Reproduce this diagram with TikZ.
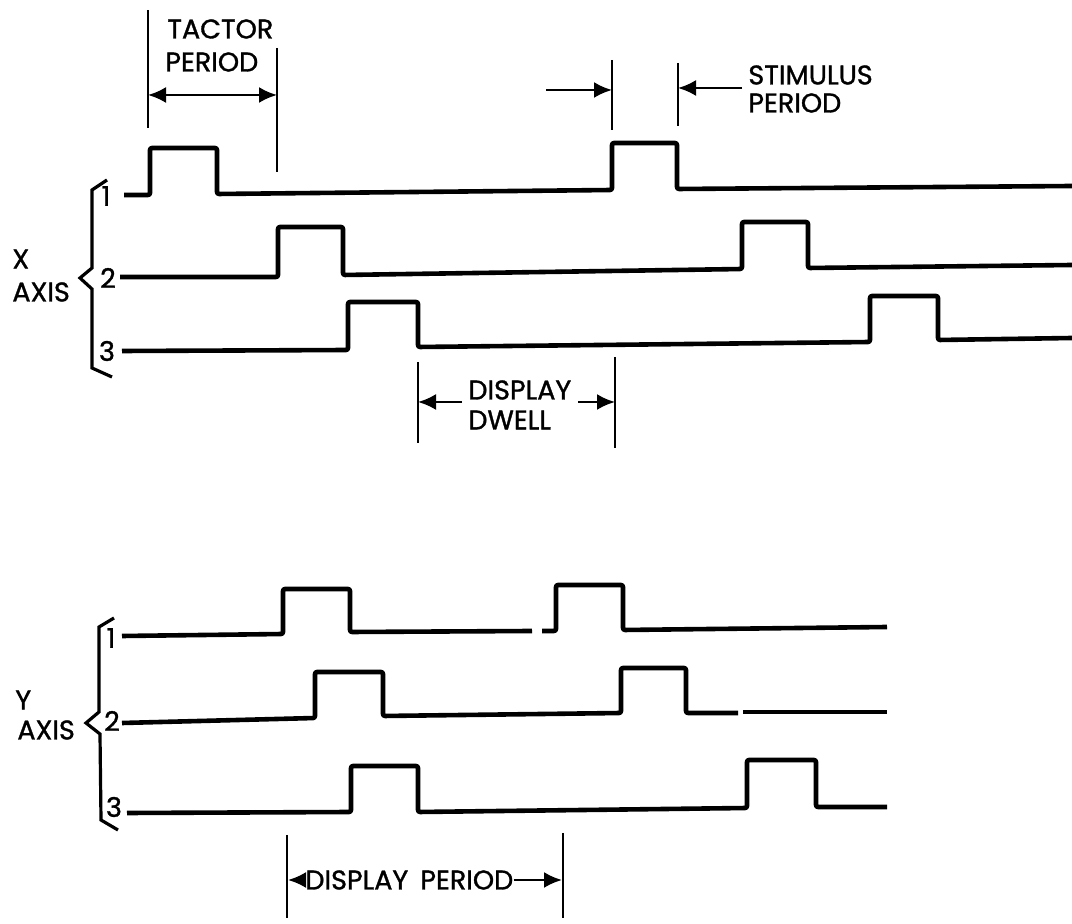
\documentclass[tikz,border=0pt]{standalone}
\usepackage{fontspec}
\setmainfont{Poppins}[FakeBold=1.2]
\usetikzlibrary{arrows.meta}
\begin{document}
\begin{tikzpicture}[x=0.5pt,y=-0.5pt,
  sig/.style={line width=2.3pt,line join=round,rounded corners=1pt},
  brc/.style={line width=1.6pt,line join=miter},
  dim/.style={line width=1.2pt},
  dimarrow/.style={line width=1.2pt,-{Latex[length=9pt,width=8pt]}},
  dimboth/.style={line width=1.2pt,{Latex[length=9pt,width=8pt]}-{Latex[length=9pt,width=8pt]}},
  lbl/.style={inner sep=0pt,anchor=west,font=\fontsize{13.5}{15}\selectfont},
  num/.style={inner sep=0pt,anchor=center,font=\fontsize{13.5}{15}\selectfont}]
\useasboundingbox[fill=white] (0,0) rectangle (1072,924);

% ---------------- X axis signals
\draw[sig] (124,195) -- (150,195) -- (150,148) -- (217,148) -- (217,194) -- (612,190) -- (612,143) -- (677,143) -- (677,189) -- (1072,186);
\draw[sig] (120,277) -- (278,277) -- (278,227) -- (343,227) -- (343,275) -- (742,269) -- (742,222) -- (808,222) -- (808,268) -- (1072,265);
\draw[sig] (122,351) -- (348,350) -- (348,302) -- (418,302) -- (418,347) -- (870,342) -- (870,296) -- (938,296) -- (938,340) -- (1072,338);

% brace X
\draw[brc] (107,180) -- (92,190) -- (92,268) -- (80,278) -- (92,289) -- (92,368) -- (112,377);
\node[num] (x1) at (106,196) {1};
\node[num] (x2) at (108,278) {2};
\node[num] (x3) at (107,351) {3};
\node[lbl] (xl) at (12,259) {X};
\node[lbl] (xa) at (12,292) {AXIS};

% tactor period
\coordinate (tpa1) at (148,10);  \coordinate (tpa2) at (148,128);
\coordinate (tpb1) at (277,48);  \coordinate (tpb2) at (277,172);
\draw[dim] (tpa1) -- (tpa2);
\draw[dim] (tpb1) -- (tpb2);
\coordinate (tpl) at (148,95); \coordinate (tpr) at (277,95);
\draw[dimboth] (tpl) -- (tpr);
\node[lbl] (tp1) at (167,29) {TACTOR};
\node[lbl] (tp2) at (165,62) {PERIOD};

% stimulus period
\coordinate (spa1) at (612,60);  \coordinate (spa2) at (612,130);
\coordinate (spb1) at (678,63);  \coordinate (spb2) at (678,126);
\draw[dim] (spa1) -- (spa2);
\draw[dim] (spb1) -- (spb2);
\coordinate (spls) at (546,90); \coordinate (sple) at (612,90);
\coordinate (sprs) at (742,88); \coordinate (spre) at (678,88);
\draw[dimarrow] (spls) -- (sple);
\draw[dimarrow] (sprs) -- (spre);
\node[lbl] (sp1) at (748,75) {STIMULUS};
\node[lbl] (sp2) at (748,103) {PERIOD};

% display dwell
\coordinate (dwa1) at (418,362);  \coordinate (dwa2) at (418,443);
\coordinate (dwb1) at (615,357);  \coordinate (dwb2) at (615,448);
\draw[dim] (dwa1) -- (dwa2);
\draw[dim] (dwb1) -- (dwb2);
\node[lbl] (dw1) at (468,390) {DISPLAY};
\node[lbl] (dw2) at (468,420) {DWELL};
\coordinate (dwls) at (462,402); \coordinate (dwle) at (418,402);
\coordinate (dwrs) at (578,402); \coordinate (dwre) at (615,402);
\draw[dimarrow] (dwls) -- (dwle);
\draw[dimarrow] (dwrs) -- (dwre);

% ---------------- Y axis signals
\draw[sig] (122,636) -- (283,634) -- (283,589) -- (350,589) -- (350,632) -- (532,631);
\draw[sig] (542,631) -- (556,631) -- (556,585) -- (623,585) -- (623,630) -- (887,627);
\draw[sig] (122,723) -- (315,718) -- (315,672) -- (383,672) -- (383,716) -- (621,713) -- (621,668) -- (686,668) -- (686,713) -- (738,713);
\draw[sig] (743,712) -- (887,712);
\draw[sig] (127,813) -- (351,812) -- (351,766) -- (418,766) -- (418,812) -- (747,808) -- (747,760) -- (816,760) -- (816,807) -- (887,807);

% brace Y
\draw[brc] (114,618) -- (99,627) -- (99,712) -- (86,723) -- (100,734) -- (101,820) -- (118,830);
\node[num] (y1) at (111,638) {1};
\node[num] (y2) at (112,721) {2};
\node[num] (y3) at (114,807) {3};
\node[lbl] (yl) at (15,700) {Y};
\node[lbl] (ya) at (17,730) {AXIS};

% display period
\coordinate (dpa1) at (287,835);  \coordinate (dpa2) at (287,918);
\coordinate (dpb1) at (563,833);  \coordinate (dpb2) at (563,918);
\draw[dim] (dpa1) -- (dpa2);
\draw[dim] (dpb1) -- (dpb2);
\node[lbl] (dp) at (305,880) {DISPLAY\hspace{0.45em}PERIOD};
\coordinate (dpl) at (288,880); \coordinate (dpr) at (562,880);
\draw[dimarrow] (dp.west) -- (dpl);
\draw[dimarrow] (dp.east) -- (dpr);
\end{tikzpicture}
\end{document}
